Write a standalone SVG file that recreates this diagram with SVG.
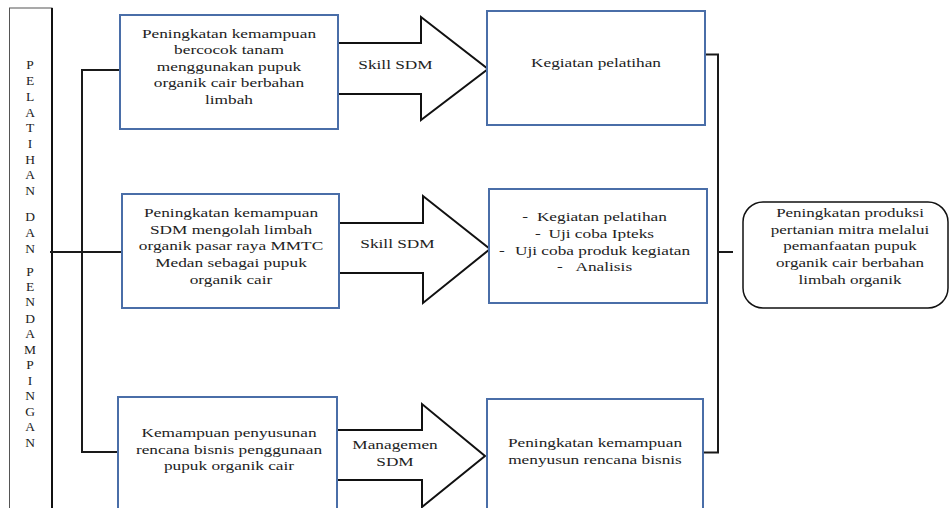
<svg xmlns="http://www.w3.org/2000/svg" width="949" height="508" viewBox="0 0 949 508">
<style>
.bx{fill:#fff;stroke:#4a6ea8;stroke-width:2}
.ar{fill:#fff;stroke:#111;stroke-width:2;stroke-linejoin:miter}
.ln{fill:none;stroke:#1a1a1a;stroke-width:2}
.t{font-family:'Liberation Serif','Noto Serif','DejaVu Serif',serif;font-size:13.5px;fill:#222;text-anchor:middle}
</style>
<rect width="949" height="508" fill="#fff"/>
<g id="pelatihan">
<rect x="9.5" y="8" width="42.5" height="510" fill="#fff" stroke="#555" stroke-width="1"/>
<line x1="52" y1="8" x2="52" y2="508" stroke="#111" stroke-width="2"/>
<text class="t" x="30" font-family="Liberation Serif, serif">
<tspan x="30" y="69">P</tspan><tspan x="30" y="85">E</tspan><tspan x="30" y="101">L</tspan><tspan x="30" y="117">A</tspan><tspan x="30" y="132">T</tspan><tspan x="30" y="148">I</tspan><tspan x="30" y="164">H</tspan><tspan x="30" y="179">A</tspan><tspan x="30" y="195">N</tspan><tspan x="30" y="221">D</tspan><tspan x="30" y="237">A</tspan><tspan x="30" y="253">N</tspan><tspan x="30" y="276">P</tspan><tspan x="30" y="291">E</tspan><tspan x="30" y="306">N</tspan><tspan x="30" y="323">D</tspan><tspan x="30" y="338">A</tspan><tspan x="30" y="354">M</tspan><tspan x="30" y="369">P</tspan><tspan x="30" y="385">I</tspan><tspan x="30" y="400">N</tspan><tspan x="30" y="416">G</tspan><tspan x="30" y="431">A</tspan><tspan x="30" y="447">N</tspan>
</text>
</g>
<g id="connectors">
<polyline class="ln" points="120,70 82,70 82,452 118,452"/>
<line class="ln" x1="50" y1="252" x2="122" y2="252"/>
<polyline class="ln" points="704,54.5 718,54.5 718,452.5 703,452.5"/>
<line class="ln" x1="718" y1="252" x2="733" y2="252"/>
<polygon class="ar" points="338,43 421,43 421,17 488,69 421,120 421,94 338,94"/>
<polygon class="ar" points="339,223 423,223 423,196 490,249 423,303 423,273 339,273"/>
<polygon class="ar" points="337,430 422,430 422,404 485,456 422,507 422,480 337,480"/>
<g transform="translate(395.5,0) scale(1.28,1)"><text class="t" x="0" y="69.5">Skill SDM</text></g>
<g transform="translate(397.5,0) scale(1.28,1)"><text class="t" x="0" y="248.5">Skill SDM</text></g>
<g transform="translate(395,0) scale(1.28,1)"><text class="t" x="0" y="449.5">Managemen</text><text class="t" x="0" y="466">SDM</text></g>
</g>
<g id="box1">
<rect class="bx" x="120" y="15" width="218" height="114"/>
<g transform="translate(229,0) scale(1.28,1)">
<text class="t" x="0" y="38.5">Peningkatan kemampuan</text>
<text class="t" x="0" y="54.5">bercocok tanam</text>
<text class="t" x="0" y="71">menggunakan pupuk</text>
<text class="t" x="0" y="87.5">organik cair berbahan</text>
<text class="t" x="0" y="104">limbah</text>
</g>
</g>
<g id="box2">
<rect class="bx" x="122" y="194" width="217" height="114"/>
<g transform="translate(231,0) scale(1.28,1)">
<text class="t" x="0" y="217.5">Peningkatan kemampuan</text>
<text class="t" x="0" y="234">SDM mengolah limbah</text>
<text class="t" x="0" y="250.5">organik pasar raya MMTC</text>
<text class="t" x="0" y="267">Medan sebagai pupuk</text>
<text class="t" x="0" y="284">organik cair</text>
</g>
</g>
<g id="box3">
<rect class="bx" x="118" y="397" width="219" height="120"/>
<g transform="translate(229,0) scale(1.28,1)">
<text class="t" x="0" y="437.5">Kemampuan penyusunan</text>
<text class="t" x="0" y="454">rencana bisnis penggunaan</text>
<text class="t" x="0" y="470.5">pupuk organik cair</text>
</g>
</g>
<g id="kegiatan1">
<rect class="bx" x="487" y="11" width="218" height="114"/>
<g transform="translate(596,0) scale(1.28,1)"><text class="t" x="0" y="67.5">Kegiatan pelatihan</text></g>
</g>
<g id="kegiatan2">
<rect class="bx" x="489" y="189" width="218" height="114"/>
<g transform="translate(594.5,0) scale(1.28,1)">
<text class="t" x="0" y="221.5">-<tspan dx="7">Kegiatan pelatihan</tspan></text>
<text class="t" x="0" y="238">-<tspan dx="6">Uji coba Ipteks</tspan></text>
<text class="t" x="0" y="255">-<tspan dx="8">Uji coba produk kegiatan</tspan></text>
<text class="t" x="0" y="271.5">-<tspan dx="10">Analisis</tspan></text>
</g>
</g>
<g id="kegiatan3">
<rect class="bx" x="487" y="399" width="216" height="120"/>
<g transform="translate(595,0) scale(1.28,1)">
<text class="t" x="0" y="447.5">Peningkatan kemampuan</text>
<text class="t" x="0" y="464">menyusun rencana bisnis</text>
</g>
</g>
<g id="hasil">
<rect x="743" y="202" width="205" height="106" rx="20" ry="20" fill="#fff" stroke="#111" stroke-width="1.5"/>
<g transform="translate(850,0) scale(1.26,1)">
<text class="t" x="0" y="217.5">Peningkatan produksi</text>
<text class="t" x="0" y="234">pertanian mitra melalui</text>
<text class="t" x="0" y="250.5">pemanfaatan pupuk</text>
<text class="t" x="0" y="267">organik cair berbahan</text>
<text class="t" x="0" y="284">limbah organik</text>
</g>
</g>
</svg>
